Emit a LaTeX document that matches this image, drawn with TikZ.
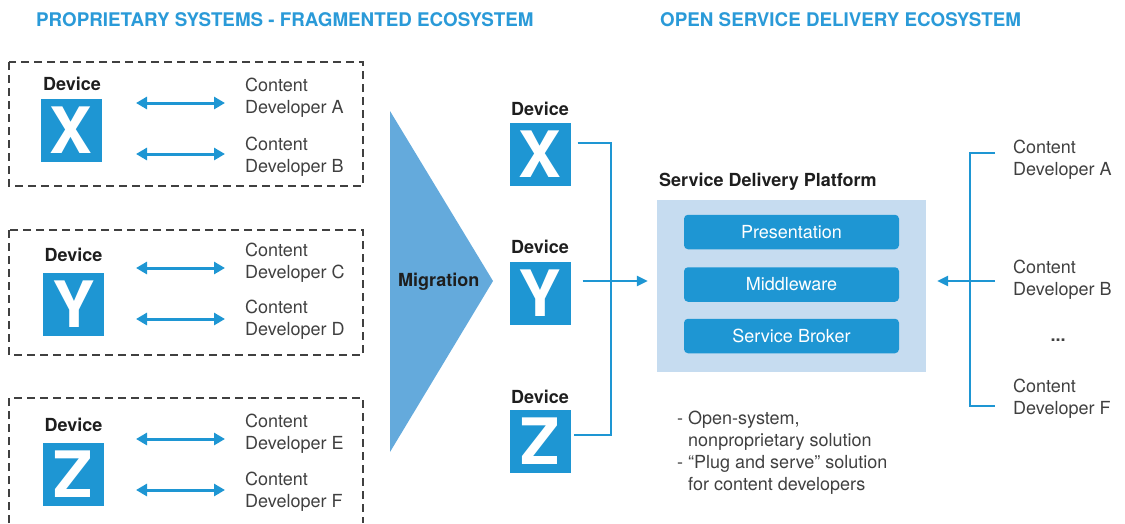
\documentclass[tikz,border=0pt]{standalone}
\usepackage{fontspec}
\setmainfont{TeX Gyre Heros}
\usetikzlibrary{arrows.meta}
\definecolor{tblue}{HTML}{1E96D3}
\definecolor{ttitle}{HTML}{2A9AD8}
\definecolor{tmig}{HTML}{64AADC}
\definecolor{tsdp}{HTML}{C6DCF0}
\definecolor{tgray}{HTML}{404040}
\definecolor{tdark}{HTML}{1E1E1E}
\tikzset{
  titletext/.style={font=\fontsize{18.8}{22}\selectfont\bfseries, text=ttitle, anchor=base west, inner sep=0},
  lbl/.style={font=\fontsize{18}{22}\selectfont\bfseries, text=tdark, anchor=base, inner sep=0},
  cd/.style={font=\fontsize{18}{22}\selectfont, text=tgray, align=left, anchor=base west, inner sep=0},
  tile/.style={fill=tblue, text=white, font=\fontsize{64}{64}\selectfont\bfseries, minimum width=61pt, minimum height=63pt, inner sep=0},
  layer/.style={fill=tblue, rounded corners=4pt, text=white, font=\fontsize{18}{22}\selectfont, minimum width=215pt, minimum height=34.5pt, inner sep=0},
  dashbox/.style={draw=tgray, line width=1.2pt, dash pattern=on 8pt off 5pt},
  biarrow/.style={draw=tblue, line width=3pt, {Triangle[length=11pt,width=12pt]}-{Triangle[length=11pt,width=12pt]}},
  conn/.style={draw=tblue, line width=2.4pt},
  connarrow/.style={draw=tblue, line width=2.4pt, -{Triangle[length=11pt,width=10pt]}},
}
\begin{document}
\begin{tikzpicture}[x=1pt,y=-1pt]
\useasboundingbox (0,0) rectangle (1125,523);

% titles
\node[titletext] (t1) at (36,26) {PROPRIETARY SYSTEMS - FRAGMENTED ECOSYSTEM};
\node[titletext] (t2) at (660,26) {OPEN SERVICE DELIVERY ECOSYSTEM};

% dashed boxes
\draw[dashbox] (9,62) rectangle (363,186);
\draw[dashbox] (9,230) rectangle (363,355);
\draw[dashbox] (9,523) -- (9,398) -- (363,398) -- (363,523);

% left devices
\node[lbl] (lX) at (72,90) {Device};
\node[tile] (tX) at (71,130.5) {X};
\node[lbl] (lY) at (73.5,261) {Device};
\node[tile] (tY) at (73.5,304.5) {Y};
\node[lbl] (lZ) at (73.5,431) {Device};
\node[tile] (tZ) at (73.5,474.5) {Z};

% left content developers (base = last line baseline)
\node[cd] (cA) at (245,113) {Content\\Developer A};
\node[cd] (cB) at (245,172) {Content\\Developer B};
\node[cd] (cC) at (245,278) {Content\\Developer C};
\node[cd] (cD) at (245,335) {Content\\Developer D};
\node[cd] (cE) at (245,449) {Content\\Developer E};
\node[cd] (cF) at (245,507) {Content\\Developer F};

% arrow end points
\coordinate (a1l) at (136,103); \coordinate (a1r) at (225,103);
\coordinate (a2l) at (136,154); \coordinate (a2r) at (225,154);
\coordinate (a3l) at (136,268); \coordinate (a3r) at (225,268);
\coordinate (a4l) at (136,319); \coordinate (a4r) at (225,319);
\coordinate (a5l) at (136,439); \coordinate (a5r) at (225,439);
\coordinate (a6l) at (136,490); \coordinate (a6r) at (225,490);
\draw[biarrow] (a1l) -- (a1r);
\draw[biarrow] (a2l) -- (a2r);
\draw[biarrow] (a3l) -- (a3r);
\draw[biarrow] (a4l) -- (a4r);
\draw[biarrow] (a5l) -- (a5r);
\draw[biarrow] (a6l) -- (a6r);

% migration
\fill[tmig] (390,111) -- (493,281) -- (390,452) -- cycle;
\node[lbl, anchor=base west] (mig) at (398,286) {Migration};

% right devices
\node[lbl] (rlX) at (540,115) {Device};
\node[tile] (rX) at (540,154.5) {X};
\node[lbl] (rlY) at (540,253) {Device};
\node[tile] (rY) at (540,293) {Y};
\node[lbl] (rlZ) at (540,403) {Device};
\node[tile] (rZ) at (540,441.5) {Z};

% service delivery platform
\node[lbl, anchor=base west] (sdpt) at (659,186) {Service Delivery Platform};
\node[fill=tsdp, minimum width=269pt, minimum height=172pt, inner sep=0] (sdp) at (791.5,286) {};
\node[layer] (pres) at (791.5,232) {Presentation};
\node[layer] (mid) at (791.5,284.5) {Middleware};
\node[layer] (sb) at (791.5,336) {Service Broker};

% connectors devices -> platform
\coordinate (jx) at (611,143);
\coordinate (jy) at (611,281);
\coordinate (jz) at (611,435);
\draw[conn] ([xshift=7pt]rX.east |- jx) -- (jx) -- (jz) -- ([xshift=3pt]rZ.east |- jz);
\draw[connarrow, shorten >=9pt] ([xshift=12pt]rY.east |- jy) -- (sdp.west |- jy);

% right content developers
\node[cd] (rA) at (1013,175) {Content\\Developer A};
\node[cd] (rB) at (1013,295) {Content\\Developer B};
\node[cd, anchor=base, font=\fontsize{18}{22}\selectfont\bfseries] (rdots) at (1058,341) {...};
\node[cd] (rF) at (1013,414) {Content\\Developer F};

\coordinate (bA) at (995,153);
\coordinate (bAc) at (970,153);
\coordinate (bF) at (995,406);
\coordinate (bFc) at (970,406);
\coordinate (bB) at (995,281);
\draw[conn] (bA) -- (bAc) -- (bFc) -- (bF);
\draw[connarrow, shorten >=11pt] (bB) -- (sdp.east |- bB);

% notes
\node[cd] (notes) at (677,490) {- Open-system,\\\hphantom{- }nonproprietary solution\\- “Plug and serve” solution\\\hphantom{- }for content developers};
\end{tikzpicture}
\end{document}
